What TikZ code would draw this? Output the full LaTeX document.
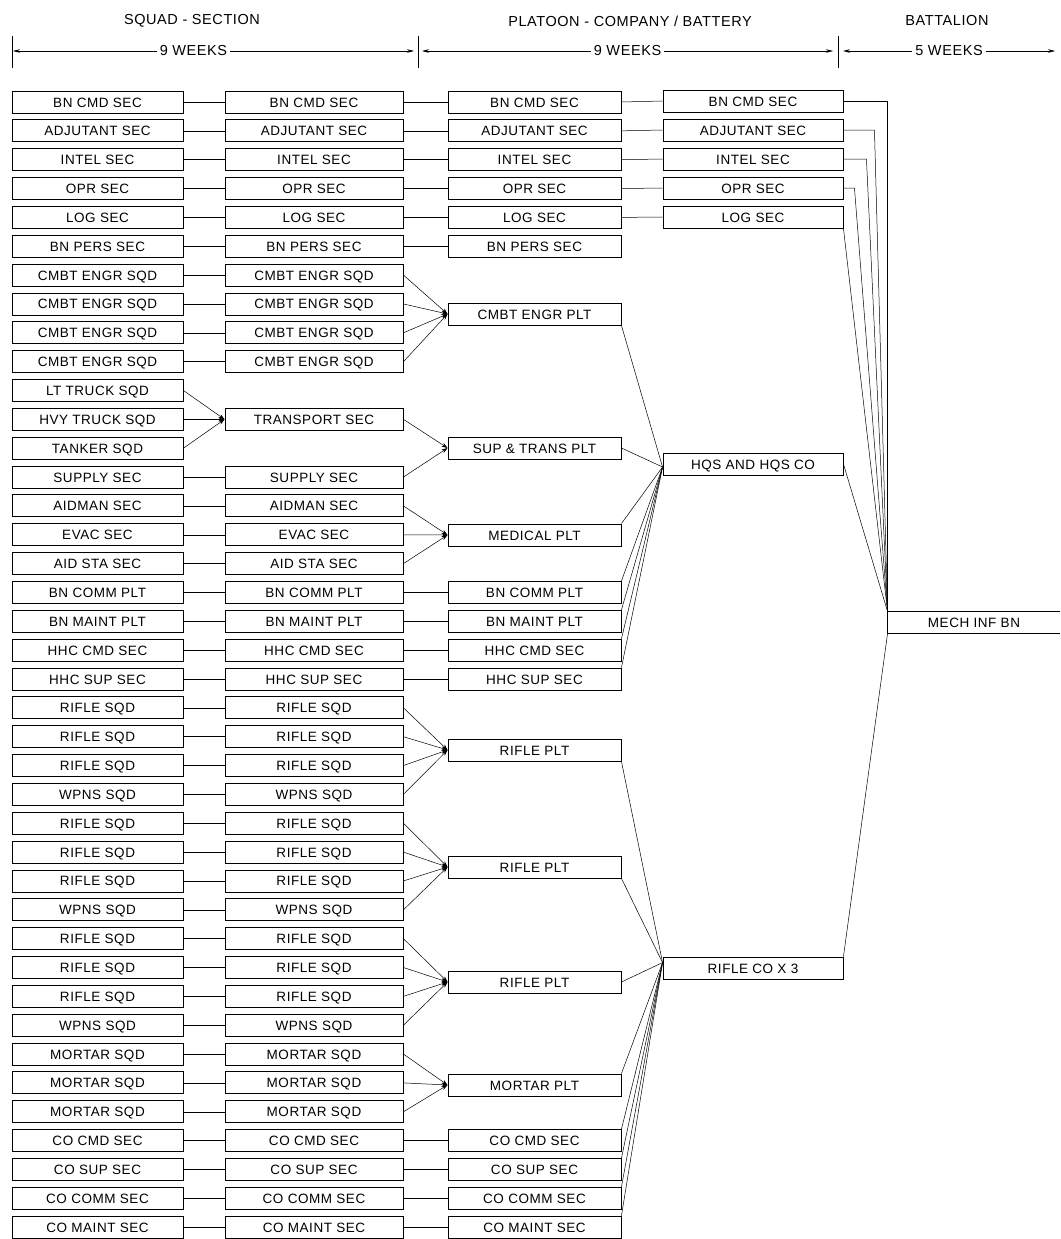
\documentclass[tikz,border=0pt]{standalone}
\usepackage{fontspec}
\setmainfont[LetterSpace=4]{Liberation Sans}
\usetikzlibrary{arrows.meta}
\begin{document}
\begin{tikzpicture}[x=1pt,y=-1pt,
  box/.style={draw, line width=0.9pt, minimum height=22pt, inner sep=0pt,
    font=\fontsize{13.5pt}{15pt}\selectfont, text height=10pt, text depth=0pt},
  w1/.style={box, minimum width=171pt},
  w2/.style={box, minimum width=178pt},
  w3/.style={box, minimum width=173pt},
  w4/.style={box, minimum width=180pt},
  link/.style={line width=0.5pt},
  feed/.style={line width=0.5pt, -{Stealth[length=6pt,width=4pt]}},
  dimline/.style={line width=0.6pt, {Stealth[length=7pt,width=3.5pt]}-{Stealth[length=7pt,width=3.5pt]}},
  head/.style={font=\fontsize{14.5pt}{16pt}\selectfont, inner sep=3pt},
  tick/.style={line width=0.7pt}
]
\useasboundingbox (0,0) rectangle (1060,1239);

% ---------- headings ----------
\node[head] (h1) at (192,21) {SQUAD - SECTION};
\node[head] (h2) at (630,21) {PLATOON - COMPANY / BATTERY};
\node[head] (h3) at (947,21) {BATTALION};

\coordinate (t0) at (12,51);
\coordinate (t1) at (418,51);
\coordinate (t2) at (838,51);
\coordinate (t3) at (1055,51);
\foreach \t in {t0,t1,t2} \draw[tick] ([yshift=15pt]\t) -- ([yshift=-17pt]\t);
\draw[dimline] ([xshift=1pt]t0) -- ([xshift=-4pt]t1) node[pos=0.45, fill=white, head] (w1) {9 WEEKS};
\draw[dimline] ([xshift=4pt]t1) -- ([xshift=-5pt]t2) node[midway, fill=white, head] (w2) {9 WEEKS};
\draw[dimline] ([xshift=5pt]t2) -- (t3) node[midway, fill=white, head] (w3) {5 WEEKS};

% ---------- column 1 : squads / sections ----------
\foreach \i/\t in {1/BN CMD SEC,2/ADJUTANT SEC,3/INTEL SEC,4/OPR SEC,5/LOG SEC,6/BN PERS SEC,
  7/CMBT ENGR SQD,8/CMBT ENGR SQD,9/CMBT ENGR SQD,10/CMBT ENGR SQD,11/LT TRUCK SQD,12/HVY TRUCK SQD,
  13/TANKER SQD,14/SUPPLY SEC,15/AIDMAN SEC,16/EVAC SEC,17/AID STA SEC,18/BN COMM PLT,19/BN MAINT PLT,
  20/HHC CMD SEC,21/HHC SUP SEC,22/RIFLE SQD,23/RIFLE SQD,24/RIFLE SQD,25/WPNS SQD,26/RIFLE SQD,
  27/RIFLE SQD,28/RIFLE SQD,29/WPNS SQD,30/RIFLE SQD,31/RIFLE SQD,32/RIFLE SQD,33/WPNS SQD,
  34/MORTAR SQD,35/MORTAR SQD,36/MORTAR SQD,37/CO CMD SEC,38/CO SUP SEC,39/CO COMM SEC,40/CO MAINT SEC}
  \node[w1] (a\i) at (97.5,{102+(\i-1)*28.85}) {\t};

% ---------- column 2 ----------
\foreach \i/\t in {1/BN CMD SEC,2/ADJUTANT SEC,3/INTEL SEC,4/OPR SEC,5/LOG SEC,6/BN PERS SEC,
  7/CMBT ENGR SQD,8/CMBT ENGR SQD,9/CMBT ENGR SQD,10/CMBT ENGR SQD,12/TRANSPORT SEC,
  14/SUPPLY SEC,15/AIDMAN SEC,16/EVAC SEC,17/AID STA SEC,18/BN COMM PLT,19/BN MAINT PLT,
  20/HHC CMD SEC,21/HHC SUP SEC,22/RIFLE SQD,23/RIFLE SQD,24/RIFLE SQD,25/WPNS SQD,26/RIFLE SQD,
  27/RIFLE SQD,28/RIFLE SQD,29/WPNS SQD,30/RIFLE SQD,31/RIFLE SQD,32/RIFLE SQD,33/WPNS SQD,
  34/MORTAR SQD,35/MORTAR SQD,36/MORTAR SQD,37/CO CMD SEC,38/CO SUP SEC,39/CO COMM SEC,40/CO MAINT SEC}
  \node[w2] (b\i) at (314,{102+(\i-1)*28.85}) {\t};

% ---------- column 3 : platoons ----------
\foreach \i/\t in {1/BN CMD SEC,2/ADJUTANT SEC,3/INTEL SEC,4/OPR SEC,5/LOG SEC,6/BN PERS SEC,
  18/BN COMM PLT,19/BN MAINT PLT,20/HHC CMD SEC,21/HHC SUP SEC,
  37/CO CMD SEC,38/CO SUP SEC,39/CO COMM SEC,40/CO MAINT SEC}
  \node[w3] (c\i) at (534.5,{102+(\i-1)*28.85}) {\t};
\node[w3] (cengr) at (534.5,314) {CMBT ENGR PLT};
\node[w3] (cst) at (534.5,448) {SUP \& TRANS PLT};
\node[w3] (cmed) at (534.5,535) {MEDICAL PLT};
\node[w3] (crpa) at (534.5,750) {RIFLE PLT};
\node[w3] (crpb) at (534.5,867) {RIFLE PLT};
\node[w3] (crpc) at (534.5,982) {RIFLE PLT};
\node[w3] (cmor) at (534.5,1085) {MORTAR PLT};

% ---------- column 4 : companies ----------
\foreach \i/\t in {1/BN CMD SEC,2/ADJUTANT SEC,3/INTEL SEC,4/OPR SEC,5/LOG SEC}
  \node[w4] (d\i) at (753,{101+(\i-1)*29}) {\t};
\node[w4] (hqs) at (753,464) {HQS AND HQS CO};
\node[w4] (rco) at (753,968) {RIFLE CO X 3};

% ---------- battalion ----------
\node[box, draw=none, minimum width=172pt, minimum height=21pt] (mech) at (974,622.5) {MECH INF BN};
\draw[line width=0.9pt] (mech.north east) -- (mech.north west) -- (mech.south west) -- (mech.south east);

% ---------- connectors col1 -> col2 ----------
\foreach \i in {1,...,10,14,15,...,40} \draw[link] (a\i.east) -- (b\i.west);
\foreach \i in {11,12,13} \draw[feed] (a\i.east) -- (b12.west);

% ---------- col2 -> col3 ----------
\foreach \i in {1,...,6,18,19,20,21,37,38,39,40} \draw[link] (b\i.east) -- (c\i.west);
\foreach \i in {7,8,9,10} \draw[feed] (b\i.east) -- (cengr.west);
\foreach \i in {12,14} \draw[feed] (b\i.east) -- (cst.west);
\foreach \i in {15,16,17} \draw[feed] (b\i.east) -- (cmed.west);
\foreach \i in {22,23,24,25} \draw[feed] (b\i.east) -- (crpa.west);
\foreach \i in {26,27,28,29} \draw[feed] (b\i.east) -- (crpb.west);
\foreach \i in {30,31,32,33} \draw[feed] (b\i.east) -- (crpc.west);
\foreach \i in {34,35,36} \draw[feed] (b\i.east) -- (cmor.west);

% ---------- col3 -> col4 ----------
\foreach \i in {1,...,5} \draw[link] (c\i.east) -- (d\i.west);
\coordinate (hqsin) at ([yshift=-3pt]hqs.west);
\draw[link] (cengr.south east) -- (hqsin);
\draw[link] (cst.east) -- (hqsin);
\draw[link] (cmed.north east) -- (hqsin);
\foreach \i in {18,19,20,21} \draw[link] (c\i.north east) -- (hqsin);
\coordinate (rcoin) at ([yshift=-6pt]rco.north west);
\draw[link] (crpa.south east) -- (rcoin);
\draw[link] (crpb.south east) -- (rcoin);
\draw[link] (crpc.east) -- (rcoin);
\draw[link] (cmor.north east) -- (rcoin);
\foreach \i in {37,38,39,40} \draw[link] (c\i.north east) -- (rcoin);

% ---------- col4 -> battalion ----------
\draw[link] (d1.east) -| (mech.north west);
\draw[link] (d2.east) -- ++(31,0) -- (mech.north west);
\draw[link] (d3.east) -- ++(23,0) -- (mech.north west);
\draw[link] (d4.east) -- ++(11,0) -- (mech.north west);
\draw[link] (d5.south east) -- (mech.north west);
\draw[link] (hqs.east) -- (mech.north west);
\draw[link] (rco.north east) -- (mech.south west);
\end{tikzpicture}
\end{document}
